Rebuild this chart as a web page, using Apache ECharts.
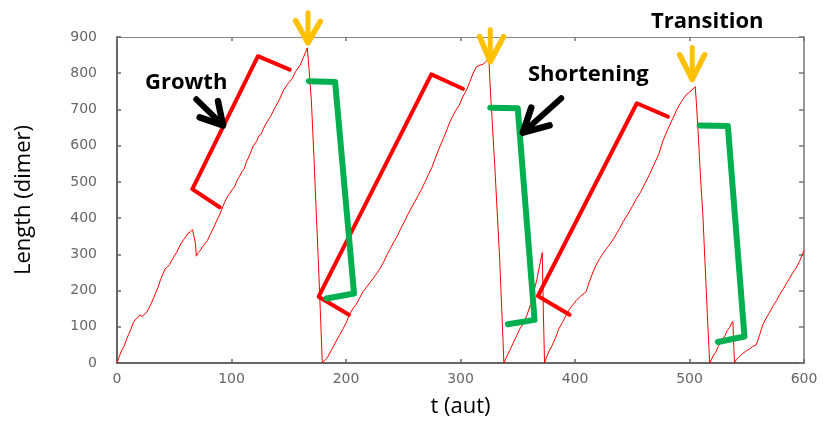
<!DOCTYPE html>
<html>
<head>
<meta charset="utf-8">
<script src="https://cdn.jsdelivr.net/npm/echarts@6/dist/echarts.min.js"></script>
<style>html,body{margin:0;padding:0;background:#fff}#c{width:823px;height:423px}</style>
</head>
<body>
<div id="c"></div>
<script>
// ---- data ----
const xTicks = [0, 100, 200, 300, 400, 500, 600];
const yTicks = [0, 100, 200, 300, 400, 500, 600, 700, 800, 900];

// simulated filament length trace: time (aut) and length (dimer)
const traceT = [0,2,4,6,8,10,12,14,16,18,20,22,24,26,28,30,32,34,36,38,40,42,44,46,48,50,52,54,56,58,60,62,64,66,67.5,68.5,69.3,71,73,75,77,79,81,83,85,87,89,91,94,97,101,103,105,107,109,111,113,116,119,122,124,126,128,130,134,138,142,145,149,153,156,160,163,166.2,
  168,169.7,172,174.1,176,178,179.3,
  181,183,185,188,191,194,197,200,203,206,209,212,215,218,221,224,227,230,233,236,239,242,245,248,251,254,257,260,263,266,269,272,275,278,281,284,287,290,293,296,299,302,305,308,311,314,317,320,322,324.8,
  325.5,326.5,328,330,332,334.2,336,337.9,
  340,343,346,349,352,355,358,361,364,367,369.5,371.4,372.3,373.4,
  374.9,377,380,383,386,389,392.4,395,398,401,404,407,409.8,412,415,418,421.5,425,428,431,434,438.9,442,446,450,453.5,457,461,465,469,473,477,481,485,489,493,497,500,503,505,
  506,507.5,509.5,511.7,513.5,515.5,517.6,
  519,521,523,525,527,529,531,533,535,536.5,537.9,538.5,539.3,
  541,543.7,546,549,552,555,558.3,561,564,567,570,573,576,578.6,582,585,587.3,590,593,596,598,600];
const traceL = [0,18,35,45,62,78,92,110,120,125,133,128,135,140,152,165,180,195,210,230,245,260,265,272,285,295,305,318,330,340,348,358,362,368,370,330,295,305,312,322,330,338,352,365,378,392,405,420,444,462,480,488,505,515,528,535,555,575,600,612,628,632,648,660,680,705,728,750,770,785,805,822,845,870,
  800,728,570,407,270,110,0,
  3,12,22,40,58,75,92,110,133,150,162,180,198,210,222,235,248,262,280,300,318,335,352,372,390,410,428,445,462,480,500,520,540,565,590,612,635,660,680,698,712,735,752,775,800,818,822,825,832,840,
  790,730,650,540,420,288,150,0,
  15,35,55,75,95,110,132,160,195,235,275,305,150,0,
  14,30,48,70,95,112,133,148,160,172,182,190,197,220,245,268,288,305,318,330,345,371,390,410,432,453,470,495,520,548,575,615,645,672,700,722,740,748,756,763,
  720,640,520,407,280,140,0,
  8,22,30,45,55,68,75,90,98,108,115,60,0,
  10,18,25,32,38,45,50,75,105,124,140,158,172,188,205,222,233,248,262,280,295,311];

// annotation shapes, in data units (t, length)
const growthBrackets = [
  [[89.7,430],[65.8,480],[123.1,847],[150.8,810]],
  [[202.6,133],[176.1,183],[274.5,797],[302.1,757]],
  [[395.3,133],[367.6,185],[454.0,717],[481.1,680]]
];
const shorteningShapes = [
  [[167.6,778],[190.5,776],[207.0,192],[183.0,178]],
  [[326.0,705],[350.0,703],[364.7,119],[341.4,107]],
  [[508.8,656],[533.5,654],[548.0,73],[524.8,58]]
];
const transitionArrows = [
  { stem: [[166.8,967],[166.8,884]], head: [[156.0,945],[166.8,884],[177.6,943]] },
  { stem: [[326.0,920],[326.0,832]], head: [[316.7,901],[326.0,832],[337.6,901]] },
  { stem: [[502.4,871],[502.4,783]], head: [[491.4,851],[502.4,783],[513.2,851]] }
];
const pointerArrows = [
  { shaft: [[69.3,728],[92.6,656]], head: [[72.2,678],[92.6,656],[88.2,723]] },
  { shaft: [[388.0,731],[354.5,636]], head: [[361.8,705],[354.5,636],[377.8,656]] }
];
const labels = ['Growth', 'Shortening', 'Transition'];

// ---- chart ----
const chart = echarts.init(document.getElementById('c'), null, { renderer: 'canvas' });
const trace = traceT.map((t, i) => [t, traceL[i]]);

function shapeSeries(pts, color, width, z) {
  return {
    type: 'line', data: pts, showSymbol: false, symbol: 'none', clip: false, silent: true,
    animation: false, z: z,
    lineStyle: { color: color, width: width, cap: 'round', join: 'round' }
  };
}

const series = [{
  type: 'line', data: trace, showSymbol: false, symbol: 'none', animation: false,
  lineStyle: { color: '#ff0000', width: 1 }, z: 2
}];
growthBrackets.forEach(b => series.push(shapeSeries(b, '#ff0000', 4, 4)));
shorteningShapes.forEach(b => series.push(shapeSeries(b, '#00b050', 6, 5)));
transitionArrows.forEach(a => {
  series.push(shapeSeries(a.stem, '#ffc000', 5, 6));
  series.push(shapeSeries(a.head, '#ffc000', 5.5, 6));
});
pointerArrows.forEach(a => {
  series.push(shapeSeries(a.shaft, '#000000', 6, 6));
  series.push(shapeSeries(a.head, '#000000', 6.5, 6));
});

const labelFont = { fontFamily: 'Open Sans', fontWeight: 'bold', fontSize: 22, fill: '#000' };
const tickLabel = { color: '#666666', fontFamily: 'DejaVu Sans', fontSize: 14 };
const frameLine = { color: '#777777', width: 1.5 };

chart.setOption({
  animation: false,
  backgroundColor: '#ffffff',
  grid: { left: 117, right: 19, top: 37, bottom: 58, containLabel: false },
  xAxis: [{
    type: 'value', min: 0, max: 600, interval: 100, position: 'bottom',
    name: 't (aut)', nameLocation: 'middle', nameGap: 33,
    nameTextStyle: { fontFamily: 'Open Sans', fontSize: 22, color: '#000' },
    axisLine: { show: true, onZero: false, lineStyle: { color: '#666666', width: 2 } },
    axisTick: { show: true, inside: true, length: 4, lineStyle: { color: '#666666', width: 1.5 } },
    axisLabel: Object.assign({ margin: 9, formatter: v => String(v) }, tickLabel),
    splitLine: { show: false }
  }, {
    type: 'value', min: 0, max: 600, interval: 100, position: 'top',
    axisLine: { show: true, onZero: false, lineStyle: { color: '#888888', width: 1 } },
    axisTick: { show: true, inside: true, length: 4, lineStyle: { color: '#777777', width: 1.5 } },
    axisLabel: { show: false }, splitLine: { show: false }
  }],
  yAxis: [{
    type: 'value', min: 0, max: 900, interval: 100, position: 'left',
    name: 'Length (dimer)', nameLocation: 'middle', nameGap: 82, nameRotate: 90,
    nameTextStyle: { fontFamily: 'Open Sans', fontSize: 22, color: '#000' },
    axisLine: { show: true, onZero: false, lineStyle: { color: '#666666', width: 2 } },
    axisTick: { show: true, inside: true, length: 4, lineStyle: { color: '#666666', width: 1.5 } },
    axisLabel: Object.assign({ margin: 20 }, tickLabel),
    splitLine: { show: false }
  }, {
    type: 'value', min: 0, max: 900, interval: 100, position: 'right',
    axisLine: { show: true, onZero: false, lineStyle: frameLine },
    axisTick: { show: true, inside: true, length: 5, lineStyle: { color: '#777777', width: 1.5 } },
    axisLabel: { show: false }, splitLine: { show: false }
  }],
  series: series,
  graphic: [
    { type: 'text', left: 145, top: 72, z: 10, style: Object.assign({ text: labels[0] }, labelFont) },
    { type: 'text', left: 528, top: 64, z: 10, style: Object.assign({ text: labels[1] }, labelFont) },
    { type: 'text', left: 651, top: 11, z: 10, style: Object.assign({ text: labels[2] }, labelFont) }
  ]
});
</script>
</body>
</html>
